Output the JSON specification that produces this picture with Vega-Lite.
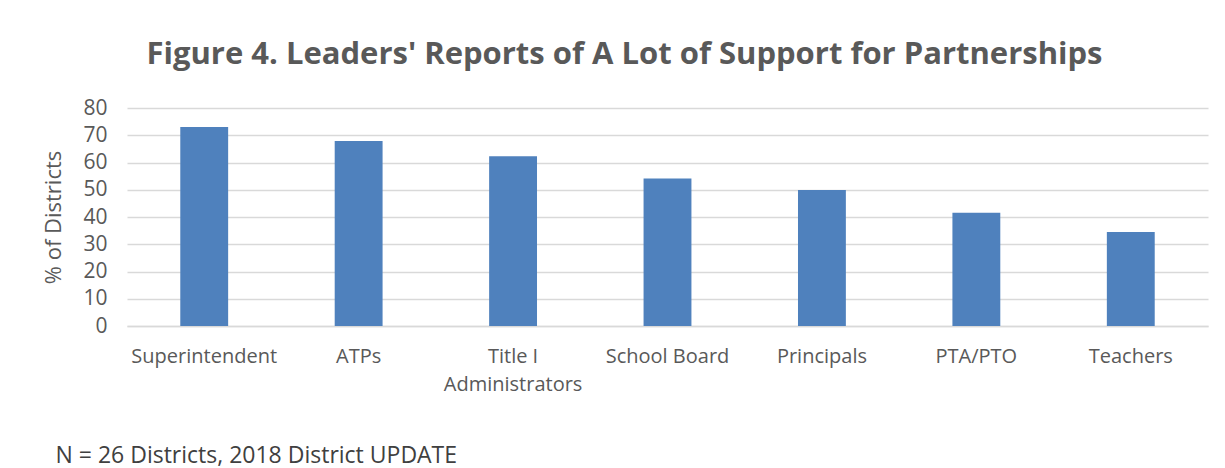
{
  "$schema": "https://vega.github.io/schema/vega-lite/v6.json",
  "autosize": {"type": "none"},
  "padding": {"left": 127, "top": 108, "right": 17, "bottom": 142},
  "width": 1081,
  "height": 218,
  "background": "white",
  "title": {
    "text": "Figure 4. Leaders' Reports of A Lot of Support for Partnerships",
    "font": "Open Sans",
    "fontSize": 31,
    "fontWeight": "bold",
    "color": "#595959",
    "anchor": "middle",
    "baseline": "alphabetic",
    "offset": 2,
    "dx": -43
  },
  "data": {
    "values": [
      {"leader": "Superintendent", "pct": 73.0},
      {"leader": "ATPs", "pct": 67.9},
      {"leader": "Title I Administrators", "pct": 62.3},
      {"leader": "School Board", "pct": 54.1},
      {"leader": "Principals", "pct": 49.9},
      {"leader": "PTA/PTO", "pct": 41.6},
      {"leader": "Teachers", "pct": 34.5}
    ]
  },
  "mark": {"type": "bar", "color": "#4f81bd"},
  "encoding": {
    "x": {
      "field": "leader",
      "type": "nominal",
      "sort": null,
      "scale": {"paddingInner": 0.69, "paddingOuter": 0.345},
      "axis": {
        "title": "N = 26 Districts, 2018 District UPDATE",
        "titleFont": "Open Sans",
        "titleFontSize": 23,
        "titleFontWeight": "normal",
        "titleColor": "#404040",
        "titleAnchor": "start",
        "titleAlign": "left",
        "titleBaseline": "alphabetic",
        "titleX": -72,
        "titleY": 136,
        "labelAngle": 0,
        "labelFont": "Open Sans",
        "labelFontSize": 20,
        "labelColor": "#595959",
        "labelPadding": 20,
        "labelExpr": "datum.value == 'Title I Administrators' ? ['Title I', 'Administrators'] : datum.value",
        "labelLineHeight": 28,
        "ticks": false,
        "domain": true,
        "domainColor": "#d9d9d9",
        "domainWidth": 1.5,
        "grid": false
      }
    },
    "y": {
      "field": "pct",
      "type": "quantitative",
      "scale": {"domain": [0, 80]},
      "axis": {
        "title": "% of Districts",
        "titleFont": "Open Sans",
        "titleFontSize": 22,
        "titleFontWeight": "normal",
        "titleColor": "#595959",
        "titleX": -62,
        "values": [0, 10, 20, 30, 40, 50, 60, 70, 80],
        "labelFont": "Open Sans",
        "labelFontSize": 21,
        "labelColor": "#595959",
        "labelPadding": 20,
        "ticks": false,
        "domain": false,
        "grid": true,
        "gridColor": "#d9d9d9",
        "gridWidth": 1.5
      }
    }
  },
  "config": {"view": {"stroke": null}}
}
